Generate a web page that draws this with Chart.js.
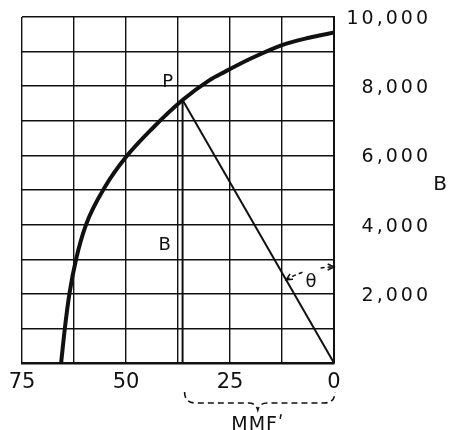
<!DOCTYPE html>
<html>
<head>
<meta charset="utf-8">
<script src="https://cdn.jsdelivr.net/npm/chart.js@4.4.0/dist/chart.umd.min.js"></script>
<style>
	html, body { margin: 0; padding: 0; background: #fff; }
</style>
</head>
<body>
<canvas id="myChart" width="449" height="430"></canvas>
<script>
const ctx = document.getElementById('myChart');

// magnetization curve (MMF, B)
const mmf = [65.6, 64.7, 63.6, 62.0, 59.6, 55.0, 50.2, 43.5, 36.4, 30.0, 26.2, 20.0, 12.5, 6.0, 0];
const flux = [0, 1000, 2000, 3000, 4000, 5100, 5925, 6800, 7600, 8170, 8420, 8800, 9190, 9400, 9550];

// operating point P
const pointP = { mmf: 36.4, flux: 7600 };

const xLabels = [75, 50, 25, 0];
const yLabels = [2000, 4000, 6000, 8000, 10000];

const ink = '#111';
const font = 'DejaVu Sans';

const curve = {
	data: mmf.map((m, i) => ({ x: m, y: flux[i] })),
	showLine: true,
	borderColor: ink,
	borderWidth: 4,
	pointRadius: 0,
	cubicInterpolationMode: 'monotone',
};

const loadLine = {
	data: [{ x: pointP.mmf, y: pointP.flux }, { x: 0, y: 0 }],
	showLine: true,
	borderColor: ink,
	borderWidth: 2,
	pointRadius: 0,
};

const dropLine = {
	data: [{ x: pointP.mmf, y: 0 }, { x: pointP.mmf, y: pointP.flux }],
	showLine: true,
	borderColor: ink,
	borderWidth: 2,
	pointRadius: 0,
};

function arrowHead(c, x, y, ang) {
	c.beginPath();
	c.moveTo(x + 7 * Math.cos(ang + 0.45), y + 7 * Math.sin(ang + 0.45));
	c.lineTo(x, y);
	c.lineTo(x + 7 * Math.cos(ang - 0.45), y + 7 * Math.sin(ang - 0.45));
	c.stroke();
}

const notes = {
	id: 'notes',
	afterDraw(chart) {
		const c = chart.ctx;
		const { x, y } = chart.scales;
		const ox = x.getPixelForValue(0), oy = y.getPixelForValue(0);
		const px = x.getPixelForValue(pointP.mmf), py = y.getPixelForValue(pointP.flux);
		c.save();
		c.fillStyle = ink;
		c.strokeStyle = ink;

		// B tick labels on the right, wide lettering
		c.textAlign = 'right';
		c.textBaseline = 'middle';
		c.font = '19px ' + font;
		c.letterSpacing = '3px';
		yLabels.forEach(v => {
			c.fillText(v.toLocaleString('en-US'), 431, y.getPixelForValue(v) + 2);
		});

		c.textAlign = 'center';
		c.letterSpacing = '0px';
		c.font = '18px ' + font;
		c.fillText('P', px - 15, py - 18);
		c.fillText('B', px - 18, y.getPixelForValue(3400));
		c.fillText('θ', ox - 23, oy - 81);
		c.font = '20px ' + font;
		c.fillText('B', chart.width - 9, y.getPixelForValue(5150));

		// theta arc with arrows
		const r = 96;
		const a1 = Math.atan2(py - oy, px - ox);
		const a2 = -Math.PI / 2;
		c.lineWidth = 1.5;
		c.setLineDash([4, 3]);
		c.beginPath();
		c.arc(ox, oy, r, a1, a1 + 0.19);
		c.stroke();
		c.beginPath();
		c.arc(ox, oy, r, a2 - 0.14, a2);
		c.stroke();
		c.setLineDash([]);
		arrowHead(c, ox + r * Math.cos(a1), oy + r * Math.sin(a1), a1 + Math.PI / 2);
		arrowHead(c, ox + r * Math.cos(a2), oy + r * Math.sin(a2), a2 - Math.PI / 2);

		// MMF' brace under the axis
		const left = px + 2, right = ox + 1, mid = (left + right) / 2 - 2;
		const top = oy + 29, base = oy + 40, tip = oy + 47;
		c.lineWidth = 1.6;
		c.setLineDash([6, 4]);
		c.beginPath();
		c.moveTo(left, top);
		c.quadraticCurveTo(left, base, left + 11, base);
		c.lineTo(mid - 9, base);
		c.quadraticCurveTo(mid - 2, base, mid, tip);
		c.quadraticCurveTo(mid + 2, base, mid + 9, base);
		c.lineTo(right - 11, base);
		c.quadraticCurveTo(right, base, right, top);
		c.stroke();
		c.setLineDash([]);
		c.font = '19px ' + font;
		c.letterSpacing = '1px';
		c.fillText('MMF\u02B9', mid, oy + 62);
		c.restore();
	}
};

new Chart(ctx, {
	type: 'scatter',
	data: {
		datasets: [curve, loadLine, dropLine],
	},
	options: {
		responsive: false,
		animation: false,
		layout: {
			padding: { left: 22, top: 17, right: 0, bottom: 0 }
		},
		plugins: {
			legend: false,
			tooltip: false
		},
		scales: {
			x: {
				type: 'linear',
				min: 0,
				max: 75,
				reverse: true,
				afterFit: s => { s.height = 67; },
				grid: {
					color: ink,
					lineWidth: 1.4,
					drawTicks: false
				},
				border: {
					color: ink,
					width: 2.5
				},
				ticks: {
					stepSize: 12.5,
					autoSkip: false,
					maxRotation: 0,
					padding: 7,
					color: ink,
					font: { family: font, size: 21 },
					callback: v => xLabels.includes(v) ? String(v) : ''
				}
			},
			y: {
				type: 'linear',
				position: 'right',
				min: 0,
				max: 10000,
				afterFit: s => { s.width = 115; },
				grid: {
					color: ink,
					lineWidth: 1.4,
					drawTicks: false
				},
				border: {
					color: ink,
					width: 2
				},
				ticks: {
					stepSize: 1000,
					display: false
				}
			}
		}
	},
	plugins: [notes]
});
</script>
</body>
</html>
